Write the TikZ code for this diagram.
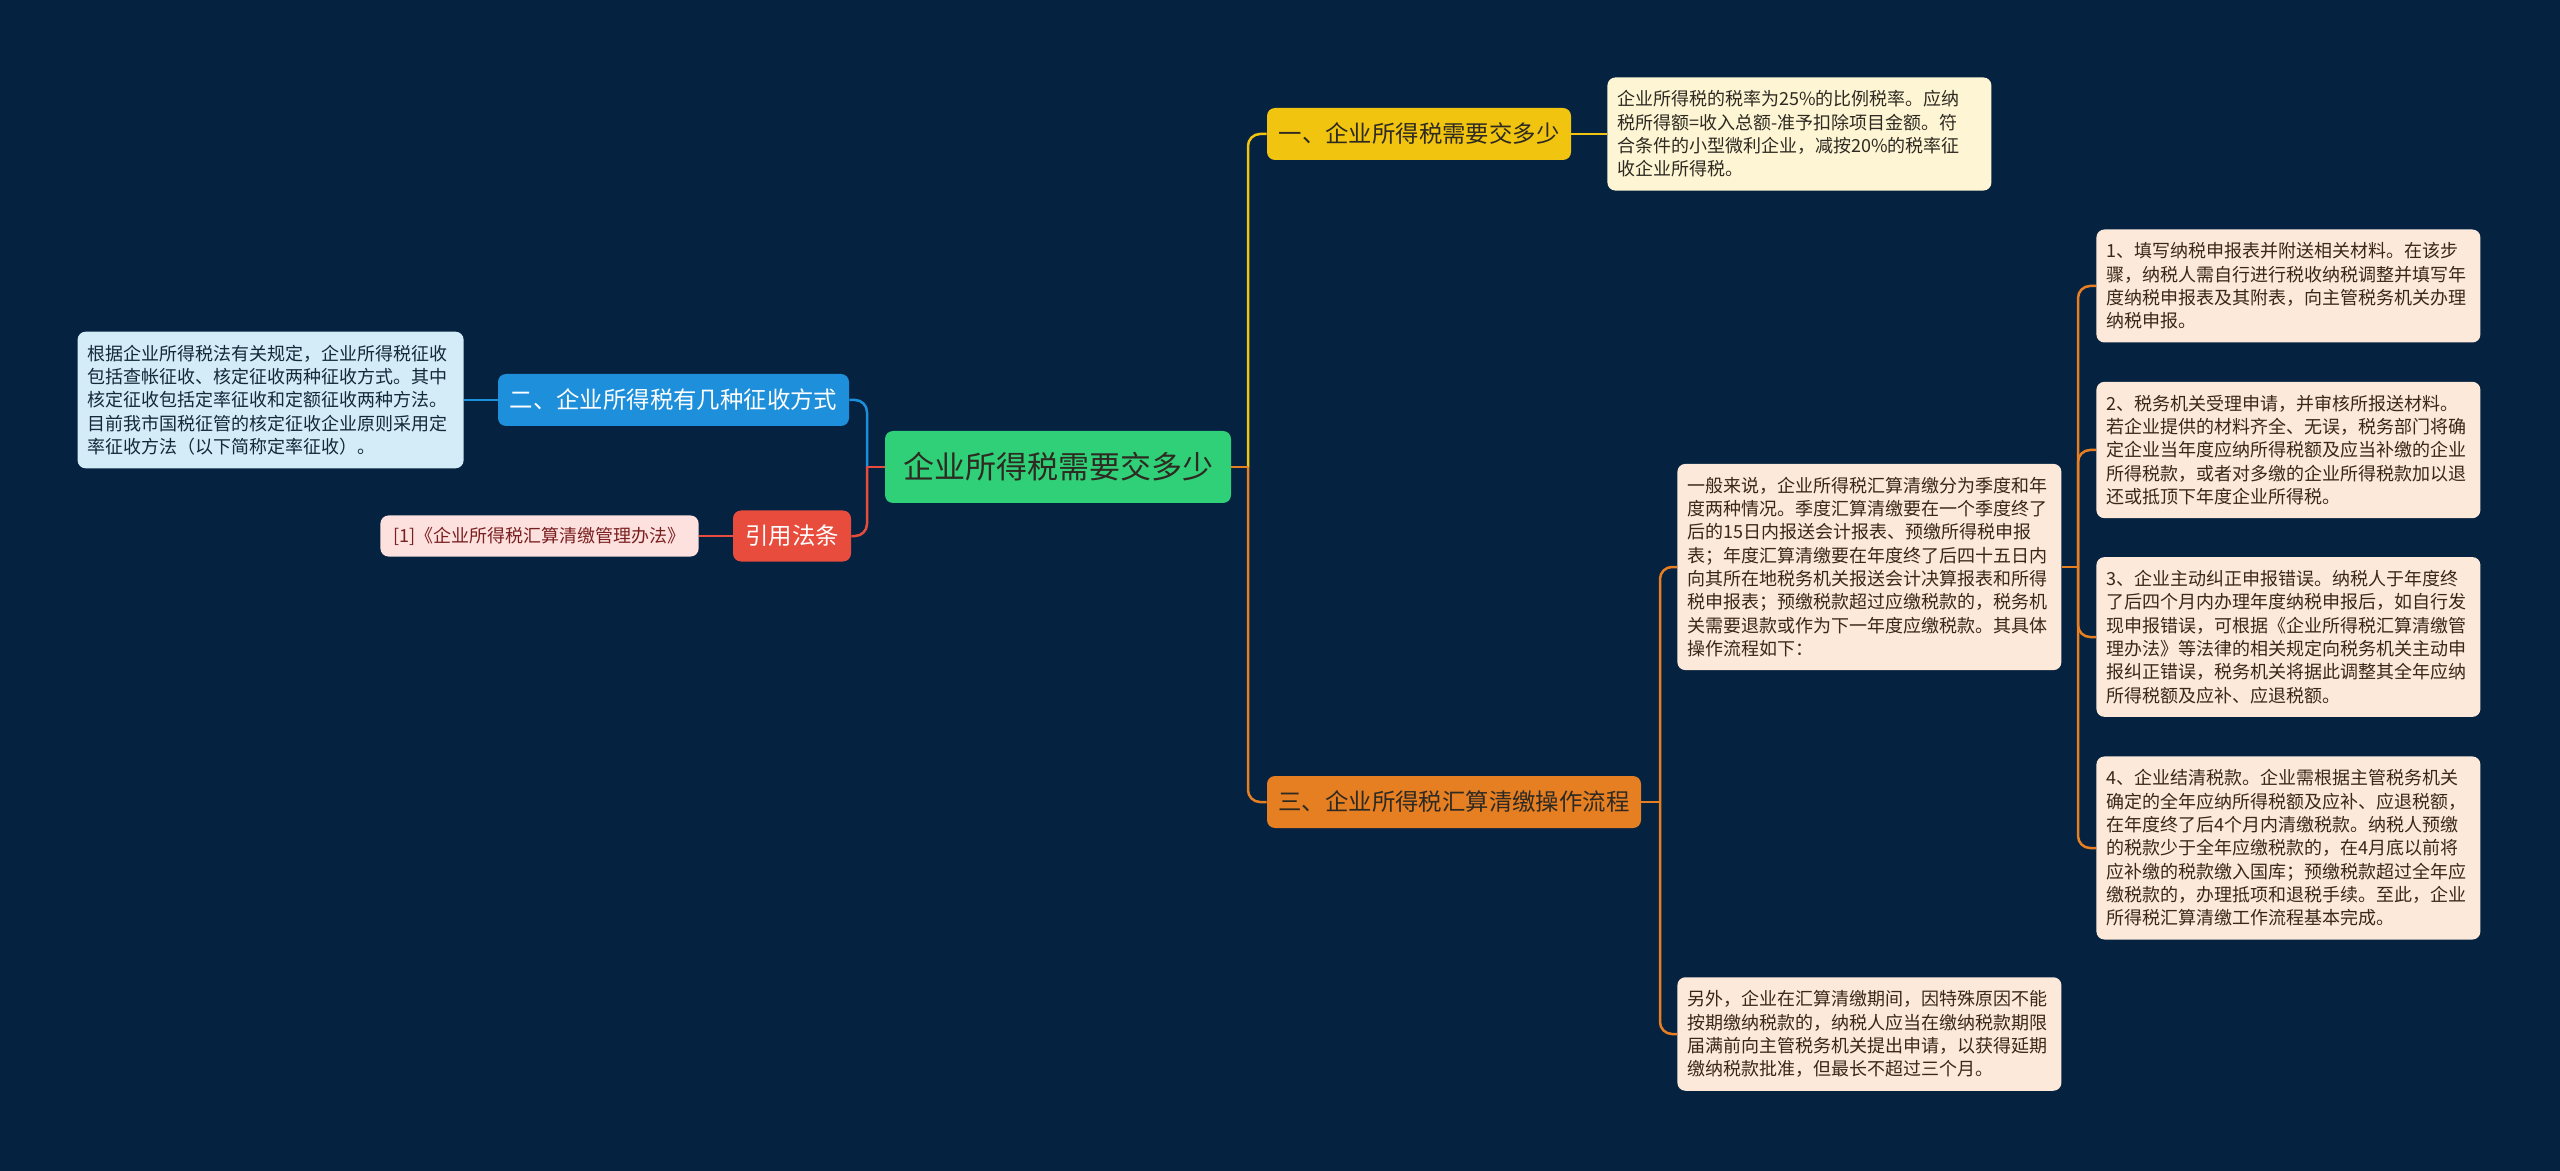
\documentclass[tikz,border=0pt]{standalone}
\usepackage{fontspec}
\setmainfont{Noto Sans CJK SC}
\definecolor{bg}{HTML}{052240}
\definecolor{cgreen}{HTML}{30D078}
\definecolor{cyellow}{HTML}{F1C40F}
\definecolor{corange}{HTML}{E67E22}
\definecolor{cblue}{HTML}{1E90DB}
\definecolor{cred}{HTML}{E74C3C}
\definecolor{lcream}{HTML}{FDF5D3}
\definecolor{lpeach}{HTML}{FCE9DA}
\definecolor{lblue}{HTML}{D3ECF8}
\definecolor{lpink}{HTML}{FDE1DF}
\definecolor{tdark}{HTML}{2E2A22}
\definecolor{tbrown}{HTML}{3A2816}
\definecolor{tnavy}{HTML}{14283A}
\definecolor{tmaroon}{HTML}{7A1F1F}
\begin{document}
\begin{tikzpicture}[x=0.5pt,y=-0.5pt,
  conn/.style={line width=1.25pt},
  branch/.style={rounded corners=4pt, minimum height=26pt, inner sep=0pt, font=\fontsize{11.7pt}{14pt}\selectfont},
  leaf/.style={rounded corners=4pt, text width=182pt, align=left, inner xsep=5pt, inner ysep=6.6pt, font=\fontsize{9pt}{11.65pt}\selectfont},
  mainnode/.style={rounded corners=4pt, fill=cgreen, text=tdark, minimum width=173pt, minimum height=36pt, inner sep=0pt, font=\fontsize{15.5pt}{18pt}\selectfont}
]
\useasboundingbox (0,0) rectangle (2560,1171);
\fill[bg] (0,0) rectangle (2560,1171);

% nodes
\node[mainnode] (c) at (1058,467) {企业所得税需要交多少};
\node[branch, fill=cyellow, text=tdark, minimum width=152pt] (b1) at (1419,134) {一、企业所得税需要交多少};
\node[branch, fill=corange, text=tdark, minimum width=187pt] (b3) at (1454,802) {三、企业所得税汇算清缴操作流程};
\node[branch, fill=cblue, text=white, minimum width=175.5pt] (b2) at (673.5,400) {二、企业所得税有几种征收方式};
\node[branch, fill=cred, text=white, minimum width=59pt, minimum height=25.5pt] (rf) at (792,536) {引用法条};

\node[leaf, fill=lcream, text=tdark, anchor=west] (l1) at (1607,134) {企业所得税的税率为25\%的比例税率。应纳\\税所得额=收入总额-准予扣除项目金额。符\\合条件的小型微利企业，减按20\%的税率征\\收企业所得税。};
\node[leaf, fill=lblue, text=tnavy, anchor=east, text width=183pt] (l2) at (464,400) {根据企业所得税法有关规定，企业所得税征收\\包括查帐征收、核定征收两种征收方式。其中\\核定征收包括定率征收和定额征收两种方法。\\目前我市国税征管的核定征收企业原则采用定\\率征收方法（以下简称定率征收）。};
\node[rounded corners=4pt, fill=lpink, text=tmaroon, anchor=east, minimum height=20.5pt, inner xsep=6.5pt, inner ysep=0pt, font=\fontsize{9pt}{11pt}\selectfont] (rl) at (699,536) {[1]《企业所得税汇算清缴管理办法》};

\node[leaf, fill=lpeach, text=tbrown, anchor=west] (l3a) at (1677,567) {一般来说，企业所得税汇算清缴分为季度和年\\度两种情况。季度汇算清缴要在一个季度终了\\后的15日内报送会计报表、预缴所得税申报\\表；年度汇算清缴要在年度终了后四十五日内\\向其所在地税务机关报送会计决算报表和所得\\税申报表；预缴税款超过应缴税款的，税务机\\关需要退款或作为下一年度应缴税款。其具体\\操作流程如下：};
\node[leaf, fill=lpeach, text=tbrown, anchor=west] (l3b) at (1677,1034) {另外，企业在汇算清缴期间，因特殊原因不能\\按期缴纳税款的，纳税人应当在缴纳税款期限\\届满前向主管税务机关提出申请，以获得延期\\缴纳税款批准，但最长不超过三个月。};

\node[leaf, fill=lpeach, text=tbrown, anchor=west] (s1) at (2096,286) {1、填写纳税申报表并附送相关材料。在该步\\骤，纳税人需自行进行税收纳税调整并填写年\\度纳税申报表及其附表，向主管税务机关办理\\纳税申报。};
\node[leaf, fill=lpeach, text=tbrown, anchor=west] (s2) at (2096,450) {2、税务机关受理申请，并审核所报送材料。\\若企业提供的材料齐全、无误，税务部门将确\\定企业当年度应纳所得税额及应当补缴的企业\\所得税款，或者对多缴的企业所得税款加以退\\还或抵顶下年度企业所得税。};
\node[leaf, fill=lpeach, text=tbrown, anchor=west] (s3) at (2096,637) {3、企业主动纠正申报错误。纳税人于年度终\\了后四个月内办理年度纳税申报后，如自行发\\现申报错误，可根据《企业所得税汇算清缴管\\理办法》等法律的相关规定向税务机关主动申\\报纠正错误，税务机关将据此调整其全年应纳\\所得税额及应补、应退税额。};
\node[leaf, fill=lpeach, text=tbrown, anchor=west] (s4) at (2096,848) {4、企业结清税款。企业需根据主管税务机关\\确定的全年应纳所得税额及应补、应退税额，\\在年度终了后4个月内清缴税款。纳税人预缴\\的税款少于全年应缴税款的，在4月底以前将\\应补缴的税款缴入国库；预缴税款超过全年应\\缴税款的，办理抵项和退税手续。至此，企业\\所得税汇算清缴工作流程基本完成。};

% junctions
\coordinate (jr) at (1248,467);
\coordinate (jl) at (867,467);
\coordinate (j3) at (1660,802);
\coordinate (j4) at (2078,567);

% connectors
\draw[conn, cyellow, rounded corners=6pt] (jr) |- (b1.west);
\draw[conn, corange, rounded corners=6pt] (jr) |- (b3.west);
\draw[conn, corange] (c.east) -- (jr);
\draw[conn, cyellow] (b1.east) -- (l1.west);

\draw[conn, cblue, rounded corners=6pt] (jl) |- (b2.east);
\draw[conn, cred, rounded corners=6pt] (jl) |- (rf.east);
\draw[conn, cred] (c.west) -- (jl);
\draw[conn, cblue] (b2.west) -- (l2.east);
\draw[conn, cred] (rf.west) -- (rl.east);

\draw[conn, corange] (b3.east) -- (j3);
\draw[conn, corange, rounded corners=6pt] (j3) |- (l3a.west);
\draw[conn, corange, rounded corners=6pt] (j3) |- (l3b.west);

\draw[conn, corange] (l3a.east) -- (j4);
\draw[conn, corange, rounded corners=6pt] (j4) |- (s1.west);
\draw[conn, corange, rounded corners=6pt] (j4) |- (s2.west);
\draw[conn, corange, rounded corners=6pt] (j4) |- (s3.west);
\draw[conn, corange, rounded corners=6pt] (j4) |- (s4.west);
\end{tikzpicture}
\end{document}
